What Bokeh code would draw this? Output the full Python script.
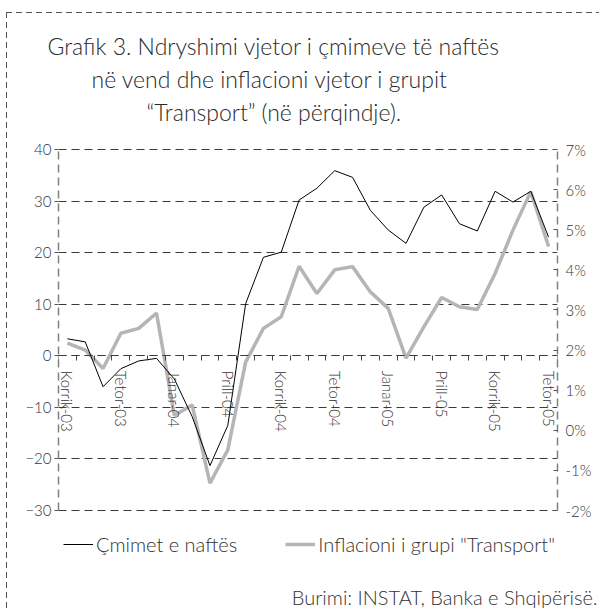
import math
from bokeh.plotting import figure
from bokeh.models import (Range1d, LinearAxis, FixedTicker, Legend, LegendItem, Title)
from bokeh.embed import file_html
from bokeh.resources import INLINE

months = ["Korrik-03", "Gusht-03", "Shtator-03", "Tetor-03", "Nëntor-03", "Dhjetor-03",
          "Janar-04", "Shkurt-04", "Mars-04", "Prill-04", "Maj-04", "Qershor-04",
          "Korrik-04", "Gusht-04", "Shtator-04", "Tetor-04", "Nëntor-04", "Dhjetor-04",
          "Janar-05", "Shkurt-05", "Mars-05", "Prill-05", "Maj-05", "Qershor-05",
          "Korrik-05", "Gusht-05", "Shtator-05", "Tetor-05"]
oil = [3.3, 2.7, -6.0, -2.5, -1.0, -0.5, -4.5, -11.8, -21.3, -13.5, 10.1, 19.1,
       20.1, 30.2, 32.5, 35.9, 34.6, 28.2, 24.4, 21.8, 28.8, 31.2, 25.6, 24.2,
       31.9, 29.8, 31.9, 23.0]
transport = [2.17, 2.0, 1.54, 2.42, 2.54, 2.92, 0.37, 0.63, -1.32, -0.49, 1.7, 2.54,
             2.83, 4.09, 3.41, 4.0, 4.08, 3.45, 3.04, 1.8, 2.58, 3.31, 3.08, 3.01,
             3.91, 4.99, 5.95, 4.58]
left_ticks = [-30, -20, -10, 0, 10, 20, 30, 40]
right_ticks = [-2, -1, 0, 1, 2, 3, 4, 5, 6, 7]
label_step = 3
title_lines = ["Grafik 3. Ndryshimi vjetor i çmimeve të naftës",
               "në vend dhe inflacioni vjetor i grupit",
               "“Transport” (në përqindje)."]
source_text = "Burimi: INSTAT, Banka e Shqipërisë."
series_names = ["Çmimet e naftës", 'Inflacioni i grupi "Transport"']

LIGHT = "'Lato Light', Lato"
TXT = "#333333"
n = len(months)
xs = list(range(n))

# layout (pixels): axis box 361 px tall; frame extends above/below it
W, H = 599, 610
AXIS_H = 361
TOP_PAD, BOT_PAD = 24, 73
MB_TOP, MB_BOT = 125, 27
lo, hi = left_ticks[0], left_ticks[-1]
rlo, rhi = right_ticks[0], right_ticks[-1]
lpp = (hi - lo) / AXIS_H
rpp = (rhi - rlo) / AXIS_H

p = figure(width=W, height=H,
           x_range=Range1d(-0.5, n - 0.5),
           y_range=Range1d(lo - BOT_PAD * lpp, hi + TOP_PAD * lpp),
           output_backend="svg", toolbar_location=None,
           min_border_left=58, min_border_right=42,
           min_border_top=MB_TOP, min_border_bottom=MB_BOT)
p.outline_line_color = None
p.background_fill_color = "white"
p.border_fill_color = None
p.styles = {
    "background-image": ("repeating-linear-gradient(to right, #555 0px, #555 6px, transparent 6px, transparent 10px), "
                         "repeating-linear-gradient(to bottom, #555 0px, #555 6px, transparent 6px, transparent 10px)"),
    "background-size": "100% 1px, 1px 100%",
    "background-position": "6px 12px, 6px 12px",
    "background-repeat": "no-repeat",
}
p.extra_y_ranges = {"pct": Range1d(rlo - BOT_PAD * rpp, rhi + TOP_PAD * rpp)}

p.xgrid.visible = False
p.ygrid.ticker = FixedTicker(ticks=left_ticks)
p.ygrid.grid_line_color = "#3a3a3a"
p.ygrid.grid_line_dash = "8 5"
p.ygrid.grid_line_width = 1.2

xa = p.xaxis[0]
xa.ticker = FixedTicker(ticks=list(range(0, n, label_step)),
                        minor_ticks=[k - 0.5 for k in range(n + 1)])
xa.major_label_overrides = {i: months[i] for i in range(0, n, label_step)}
xa.fixed_location = 0
xa.major_tick_in = 0
xa.major_tick_out = 0
xa.minor_tick_in = 0
xa.minor_tick_out = 5
xa.minor_tick_line_color = "#444444"
xa.axis_line_color = "#3a3a3a"
xa.axis_line_dash = "8 5"
xa.axis_line_width = 1.2
xa.major_label_orientation = -math.pi / 2
xa.major_label_standoff = 10
xa.major_label_text_font = LIGHT
xa.major_label_text_font_size = "15px"
xa.major_label_text_color = TXT

ya = p.yaxis[0]
ya.ticker = FixedTicker(ticks=left_ticks)
ya.bounds = (lo, hi)
ya.axis_line_color = "#808080"
ya.axis_line_dash = "8 5"
ya.axis_line_width = 1.5
ya.major_tick_in = 0
ya.major_tick_out = 4
ya.major_tick_line_color = "#555555"
ya.minor_tick_line_color = None
ya.major_label_standoff = 3
ya.major_label_text_font = LIGHT
ya.major_label_text_font_size = "15px"
ya.major_label_text_color = TXT

ra = LinearAxis(y_range_name="pct", ticker=FixedTicker(ticks=right_ticks), bounds=(rlo, rhi))
ra.major_label_overrides = {t: f"{t}%" for t in right_ticks}
ra.axis_line_color = "#808080"
ra.axis_line_dash = "8 5"
ra.axis_line_width = 1.5
ra.major_tick_in = 4
ra.major_tick_out = 0
ra.major_tick_line_color = "#555555"
ra.minor_tick_line_color = None
ra.major_label_standoff = 8
ra.major_label_text_font = LIGHT
ra.major_label_text_font_size = "15px"
ra.major_label_text_color = TXT
p.add_layout(ra, "right")

r2 = p.line(xs, transport, y_range_name="pct", line_color="#b5b5b5", line_width=3.5)
r1 = p.line(xs, oil, line_color="black", line_width=1)

title_offsets = [-11, 33, 88]
title_valign = ["middle", "middle", "bottom"]
title_standoff = [3, 3, 0]
for i in (2, 1, 0):
    t = Title(text=title_lines[i], align="left", offset=title_offsets[i],
              vertical_align=title_valign[i], standoff=title_standoff[i],
              text_font=LIGHT, text_font_size="23px", text_color="#2a2a2a")
    t.text_font_style = "normal"
    p.add_layout(t, "above")

legend = Legend(items=[LegendItem(label=series_names[0], renderers=[r1]),
                       LegendItem(label=series_names[1], renderers=[r2])],
                orientation="horizontal", location=(5, 27), padding=0, margin=0,
                spacing=48, glyph_width=30, glyph_height=20, label_standoff=3,
                border_line_color=None, background_fill_alpha=0,
                label_text_font=LIGHT, label_text_font_size="20px",
                label_text_color=TXT)
p.add_layout(legend, "center")

src = Title(text=source_text, align="right", offset=-40, vertical_align="middle",
            standoff=0, text_font=LIGHT, text_font_size="20px", text_color=TXT)
src.text_font_style = "normal"
p.add_layout(src, "below")

open("out.html", "w").write(file_html(p, INLINE))
